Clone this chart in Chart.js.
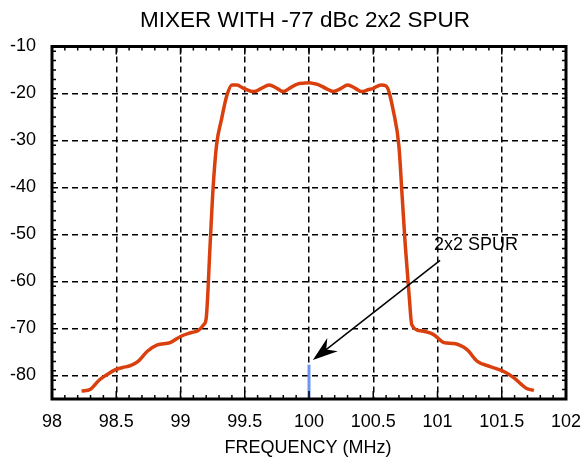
<!DOCTYPE html>
<html>
<head>
<meta charset="utf-8">
<script src="https://cdn.jsdelivr.net/npm/chart.js@4"></script>
<style>
html,body{margin:0;padding:0;background:#fff;}
canvas{display:block;}
</style>
</head>
<body>
<canvas id="c" width="581" height="459"></canvas>
<script>
const chartTitle = "MIXER WITH -77 dBc 2x2 SPUR";
const xAxisTitle = "FREQUENCY (MHz)";
const annotationText = "2x2 SPUR";

const freqMHz = [98.23, 98.30, 98.37, 98.43, 98.49, 98.55, 98.61, 98.67, 98.74, 98.82, 98.92, 99.00, 99.08, 99.14, 99.18, 99.20, 99.23, 99.25, 99.28, 99.32, 99.36, 99.40, 99.44, 99.49, 99.57, 99.63, 99.69, 99.75, 99.80, 99.86, 99.91, 99.96, 100.00, 100.04, 100.08, 100.13, 100.19, 100.25, 100.30, 100.36, 100.41, 100.46, 100.50, 100.56, 100.60, 100.66, 100.70, 100.725, 100.75, 100.78, 100.80, 100.87, 100.97, 101.05, 101.13, 101.23, 101.31, 101.41, 101.52, 101.60, 101.69, 101.75];
const levelDb = [-83.3, -82.9, -80.9, -79.8, -78.8, -78.3, -77.9, -77.0, -74.9, -73.5, -73.0, -71.7, -70.9, -70.4, -69.2, -67.8, -52.4, -41.7, -31.1, -25.4, -20.5, -18.2, -18.2, -18.9, -19.6, -18.9, -18.2, -18.9, -19.6, -18.7, -18.0, -17.8, -17.7, -17.9, -18.2, -18.9, -19.6, -18.9, -18.2, -18.9, -19.6, -19.2, -18.9, -18.2, -18.4, -24.2, -31.3, -41.9, -52.6, -63.2, -69.2, -70.5, -71.3, -73.0, -73.2, -74.5, -77.0, -78.1, -79.2, -80.6, -82.7, -83.2];

const spurFreq = [100.0, 100.0];
const spurDb = [-77.7, -85];

const xTicks = [98, 98.5, 99, 99.5, 100, 100.5, 101, 101.5, 102];
const yTicks = [-10, -20, -30, -40, -50, -60, -70, -80];
const xRange = [98, 102];
const yRange = [-85, -10];

// annotation anchor values (data units)
const arrowFrom = [101.02, -55.5];
const arrowTo = [100.03, -76.7];
const labelAt = [101.3, -52.3];

const FONT = '"Liberation Sans", Arial, Helvetica, sans-serif';

const framePlugin = {
  id: 'frame',
  afterDatasetsDraw(chart) {
    const ctx = chart.ctx;
    const a = chart.chartArea;
    const xs = chart.scales.x, ys = chart.scales.y;
    ctx.save();
    ctx.strokeStyle = '#000';
    ctx.lineWidth = 1.5;
    ctx.beginPath();
    for (let i = 0; i < xTicks.length - 1; i++) {
      const step = (xTicks[i + 1] - xTicks[i]) / 5;
      for (let k = 0; k <= 5; k++) {
        const v = xTicks[i] + step * k;
        const px = xs.getPixelForValue(v);
        const len = (k === 0 || k === 5) ? 8 : 4;
        ctx.moveTo(px, a.bottom); ctx.lineTo(px, a.bottom - len);
        ctx.moveTo(px, a.top); ctx.lineTo(px, a.top + len);
      }
    }
    for (let v = yRange[0]; v <= yRange[1] + 1e-9; v += 2) {
      const py = ys.getPixelForValue(v);
      const major = Math.abs(v % 10) < 1e-9;
      const len = major ? 8 : 4;
      ctx.moveTo(a.left, py); ctx.lineTo(a.left + len, py);
      ctx.moveTo(a.right, py); ctx.lineTo(a.right - len, py);
    }
    ctx.stroke();
    ctx.lineWidth = 3;
    ctx.strokeRect(a.left, a.top, a.right - a.left, a.bottom - a.top);

    const x1 = xs.getPixelForValue(arrowFrom[0]), y1 = ys.getPixelForValue(arrowFrom[1]);
    const x2 = xs.getPixelForValue(arrowTo[0]), y2 = ys.getPixelForValue(arrowTo[1]);
    const ang = Math.atan2(y2 - y1, x2 - x1);
    const ux = Math.cos(ang), uy = Math.sin(ang);
    const nx = -uy, ny = ux;
    ctx.lineWidth = 1.5;
    ctx.beginPath();
    ctx.moveTo(x1, y1);
    ctx.lineTo(x2 - ux * 12, y2 - uy * 12);
    ctx.stroke();
    ctx.fillStyle = '#000';
    ctx.beginPath();
    ctx.moveTo(x2, y2);
    ctx.lineTo(x2 - ux * 25 + nx * 8.5, y2 - uy * 25 + ny * 8.5);
    ctx.lineTo(x2 - ux * 17, y2 - uy * 17);
    ctx.lineTo(x2 - ux * 25 - nx * 8.5, y2 - uy * 25 - ny * 8.5);
    ctx.closePath();
    ctx.fill();

    ctx.font = '18px ' + FONT;
    ctx.textAlign = 'center';
    ctx.textBaseline = 'middle';
    ctx.fillText(annotationText, xs.getPixelForValue(labelAt[0]), ys.getPixelForValue(labelAt[1]));

    const cx = (a.left + a.right) / 2;
    ctx.font = '22.5px ' + FONT;
    ctx.fillText(chartTitle, cx - 4, 21);
    ctx.font = '18px ' + FONT;
    ctx.fillText(xAxisTitle, cx - 1, 448);
    ctx.restore();
  }
};

new Chart(document.getElementById('c'), {
  type: 'line',
  data: {
    datasets: [
      {
        data: freqMHz.map((f, i) => ({ x: f, y: levelDb[i] })),
        borderColor: '#d9400e',
        borderWidth: 3.5,
        pointRadius: 0,
        cubicInterpolationMode: 'monotone',
        fill: false
      },
      {
        data: spurFreq.map((f, i) => ({ x: f, y: spurDb[i] })),
        borderColor: '#6a96f2',
        borderWidth: 3,
        pointRadius: 0,
        fill: false
      }
    ]
  },
  options: {
    responsive: false,
    animation: false,
    layout: { padding: { left: 0, right: 15, top: 46.5, bottom: 0 } },
    plugins: { legend: { display: false }, tooltip: { enabled: false }, title: { display: false } },
    scales: {
      x: {
        type: 'linear',
        min: xRange[0], max: xRange[1],
        afterBuildTicks: s => { s.ticks = xTicks.map(v => ({ value: v })); },
        afterFit: s => { s.height = 60; s.paddingLeft = 0; s.paddingRight = 0; },
        border: { display: false, dash: [6, 4] },
        grid: { color: '#000', lineWidth: 1.5, drawTicks: false },
        ticks: { color: '#000', padding: 12, maxRotation: 0, autoSkip: false,
          font: { family: FONT, size: 18 }, callback: v => String(v) }
      },
      y: {
        type: 'linear',
        min: yRange[0], max: yRange[1],
        afterBuildTicks: s => { s.ticks = yTicks.map(v => ({ value: v })); },
        afterFit: s => { s.width = 52; s.paddingTop = 0; s.paddingBottom = 0; },
        border: { display: false, dash: [6, 4] },
        grid: { color: '#000', lineWidth: 1.5, drawTicks: false },
        ticks: { color: '#000', padding: 16, autoSkip: false,
          font: { family: FONT, size: 18 }, callback: v => String(v) }
      }
    }
  },
  plugins: [framePlugin]
});
</script>
</body>
</html>
